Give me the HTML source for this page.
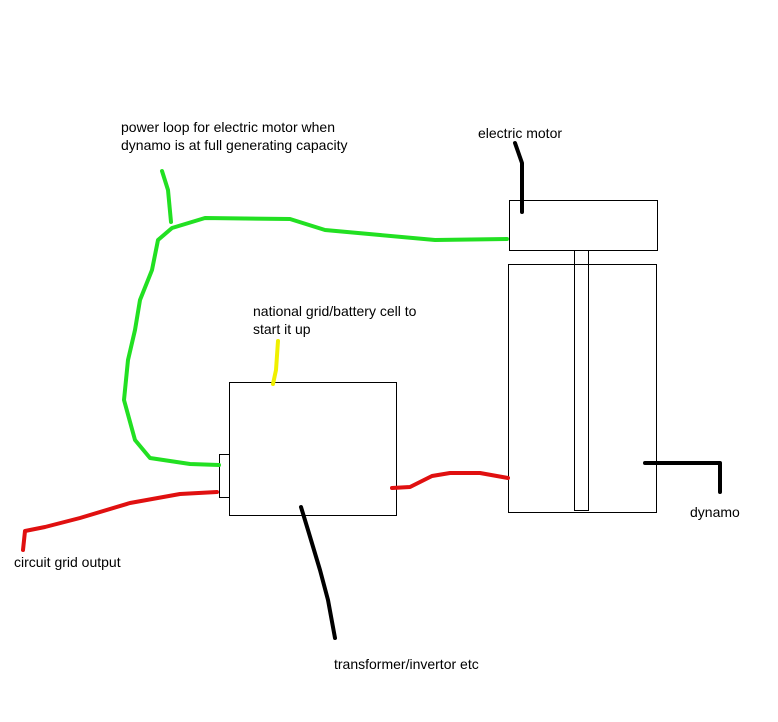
<!DOCTYPE html>
<html><head><style>body{margin:0;background:#fff}svg{display:block}text{font-family:"Liberation Sans",sans-serif;font-size:14px;fill:#000}</style></head><body>
<svg width="778" height="722" viewBox="0 0 778 722" xmlns="http://www.w3.org/2000/svg">
<g fill="none" stroke="#000" stroke-width="1">
<rect x="229.5" y="382.5" width="167" height="133"/>
<rect x="219.5" y="454.5" width="10" height="43"/>
<rect x="509.5" y="200.5" width="148" height="50"/>
<rect x="508.5" y="264.5" width="148" height="248"/>
<rect x="574.5" y="250.5" width="14" height="260"/>
</g>
<g fill="none" stroke-linecap="round" stroke-linejoin="round" stroke-width="4">
<path stroke="#22e022" d="M162 171 L168 190 L171 222 M219 465 L190 464 L150 458 L135 440 L124 400 L128 360 L135 330 L140 300 L152 270 L158 240 L172 228 L205 218 L290 219 L325 230 L380 235 L435 240 L507 239"/>
<path stroke="#e01010" d="M217 492 L180 494 L130 503 L80 518 L45 527 L25 531 L23 550 M392 488 L410 487 L432 476 L450 473 L480 473 L508 478"/>
<path stroke="#f0f000" d="M278 341 L276 370 L273 384"/>
<path stroke="#000" d="M515 143 L522 163 L522 212 M301 507 L308 530 L320 570 L328 600 L335 638 M645 463 L720 463 L720 492"/>
</g>
<text x="121" y="132">power loop for electric motor when</text>
<text x="121" y="150">dynamo is at full generating capacity</text>
<text x="478" y="138">electric motor</text>
<text x="253" y="316">national grid/battery cell to</text>
<text x="253" y="334">start it up</text>
<text x="690" y="517">dynamo</text>
<text x="14" y="567">circuit grid output</text>
<text x="334" y="669">transformer/invertor etc</text>
</svg>
</body></html>
